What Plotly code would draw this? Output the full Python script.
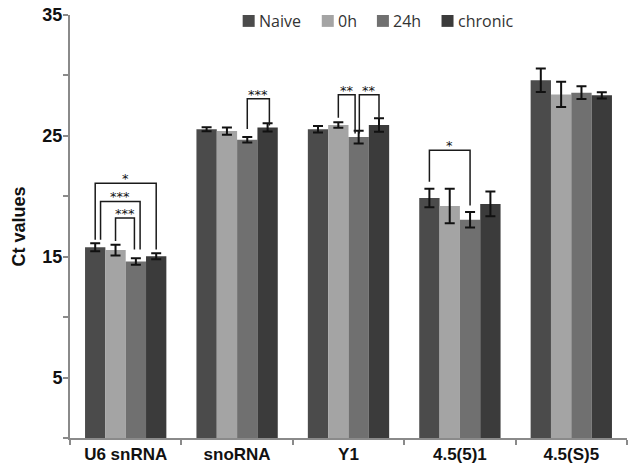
import plotly.graph_objects as go

categories = ["U6 snRNA", "snoRNA", "Y1", "4.5(5)1", "4.5(S)5"]
series_names = ["Naive", "0h", "24h", "chronic"]
naive = [15.78, 25.55, 25.55, 19.86, 29.60]
h0 = [15.55, 25.40, 25.90, 19.20, 28.43]
h24 = [14.60, 24.68, 24.90, 18.05, 28.57]
chronic = [15.04, 25.70, 25.90, 19.37, 28.35]
naive_err = [0.33, 0.16, 0.27, 0.77, 0.97]
h0_err = [0.44, 0.30, 0.22, 1.43, 1.04]
h24_err = [0.27, 0.23, 0.53, 0.64, 0.53]
chronic_err = [0.25, 0.34, 0.55, 1.03, 0.25]
colors = ["#4b4b4b", "#a4a4a4", "#707070", "#3b3b3b"]

# significance brackets: (category, bar a, bar b, top, bottom a, bottom b, label, dx a, dx b)
brackets = [
    (0, 0, 3, 21.07, 16.4, 15.6, "*", 0.0, 0.0),
    (0, 0, 2, 19.57, 16.4, 15.6, "***", 0.048, 0.038),
    (0, 1, 2, 18.20, 16.3, 15.6, "***", 0.0, -0.013),
    (1, 2, 3, 28.08, 25.57, 25.85, "***", 0.0, 0.016),
    (2, 1, 2, 28.40, 26.5, 25.2, "**", 0.0, -0.032),
    (2, 2, 3, 28.40, 25.2, 26.5, "**", 0.006, 0.0),
    (3, 0, 2, 23.80, 21.2, 19.24, "*", 0.0, 0.0),
]

# legend entry left edges (paper fraction of plot width)
legend_x = [0.310, 0.452, 0.551, 0.667]

values = [naive, h0, h24, chronic]
errors = [naive_err, h0_err, h24_err, chronic_err]
bargap = 0.27
bw = (1 - bargap) / len(series_names)

W, H = 630, 467
ML, MR, MT, MB = 70, 3, 15, 25
PW, PH = W - ML - MR, H - MT - MB

fig = go.Figure()
for name, v, e, c in zip(series_names, values, errors, colors):
    fig.add_trace(go.Bar(
        name=name, x=categories, y=v, marker=dict(color=c, line=dict(width=0)),
        error_y=dict(type="data", array=e, color="#111111", thickness=2, width=5),
        showlegend=False,
    ))

for cat, a, b, top, ba, bb, lab, dxa, dxb in brackets:
    xa = cat + (a - 1.5) * bw + dxa
    xb = cat + (b - 1.5) * bw + dxb
    fig.add_shape(type="path",
                  path=f"M {xa},{ba} L {xa},{top} L {xb},{top} L {xb},{bb}",
                  line=dict(color="#1a1a1a", width=1.5), xref="x", yref="y")
    fig.add_annotation(x=(xa + xb) / 2, y=top, text=lab, showarrow=False,
                       yanchor="bottom", yshift=-5, xref="x", yref="y",
                       font=dict(family="DejaVu Sans", size=13, color="#111111"))

# legend drawn as squares + text
sq = 12
ly = 1 + (MT - 21) / PH
for name, c, lx in zip(series_names, colors, legend_x):
    x0 = lx
    x1 = lx + sq / PW
    fig.add_shape(type="rect", xref="paper", yref="paper",
                  x0=x0, x1=x1, y0=ly - sq / 2 / PH, y1=ly + sq / 2 / PH,
                  fillcolor=c, line=dict(width=0))
    fig.add_annotation(xref="paper", yref="paper", x=x1 + 2 / PW, y=ly,
                       xanchor="left", yanchor="middle", showarrow=False, text=name,
                       font=dict(family="Open Sans", size=16, color="#333333"))

fig.update_layout(
    width=W, height=H,
    margin=dict(l=ML, r=MR, t=MT, b=MB),
    paper_bgcolor="white", plot_bgcolor="white",
    barmode="group", bargap=bargap, bargroupgap=0,
    showlegend=False,
    xaxis=dict(type="category", range=[-0.5, 4.5], showline=True, linecolor="#8a8a8a",
               linewidth=2, ticks="outside", tickson="boundaries", ticklen=5,
               tickcolor="#8a8a8a", tickwidth=1.5, showgrid=False,
               tickfont=dict(family="Liberation Sans", size=17, color="#111111", weight="bold")),
    yaxis=dict(range=[0, 35], showline=True, linecolor="#8a8a8a", linewidth=2,
               ticks="outside", ticklen=5, tickcolor="#8a8a8a", tickwidth=1.5,
               tickvals=[0, 5, 10, 15, 20, 25, 30, 35],
               ticktext=["", "5", "", "15", "", "25", "", "35"],
               showgrid=False, zeroline=False, ticklabelstandoff=-3,
               tickfont=dict(family="Liberation Sans", size=18, color="#111111", weight="bold"),
               title=dict(text="Ct values", standoff=12,
                          font=dict(family="Liberation Sans", size=18, color="#111111", weight="bold"))),
)

fig.write_html("out.html")
